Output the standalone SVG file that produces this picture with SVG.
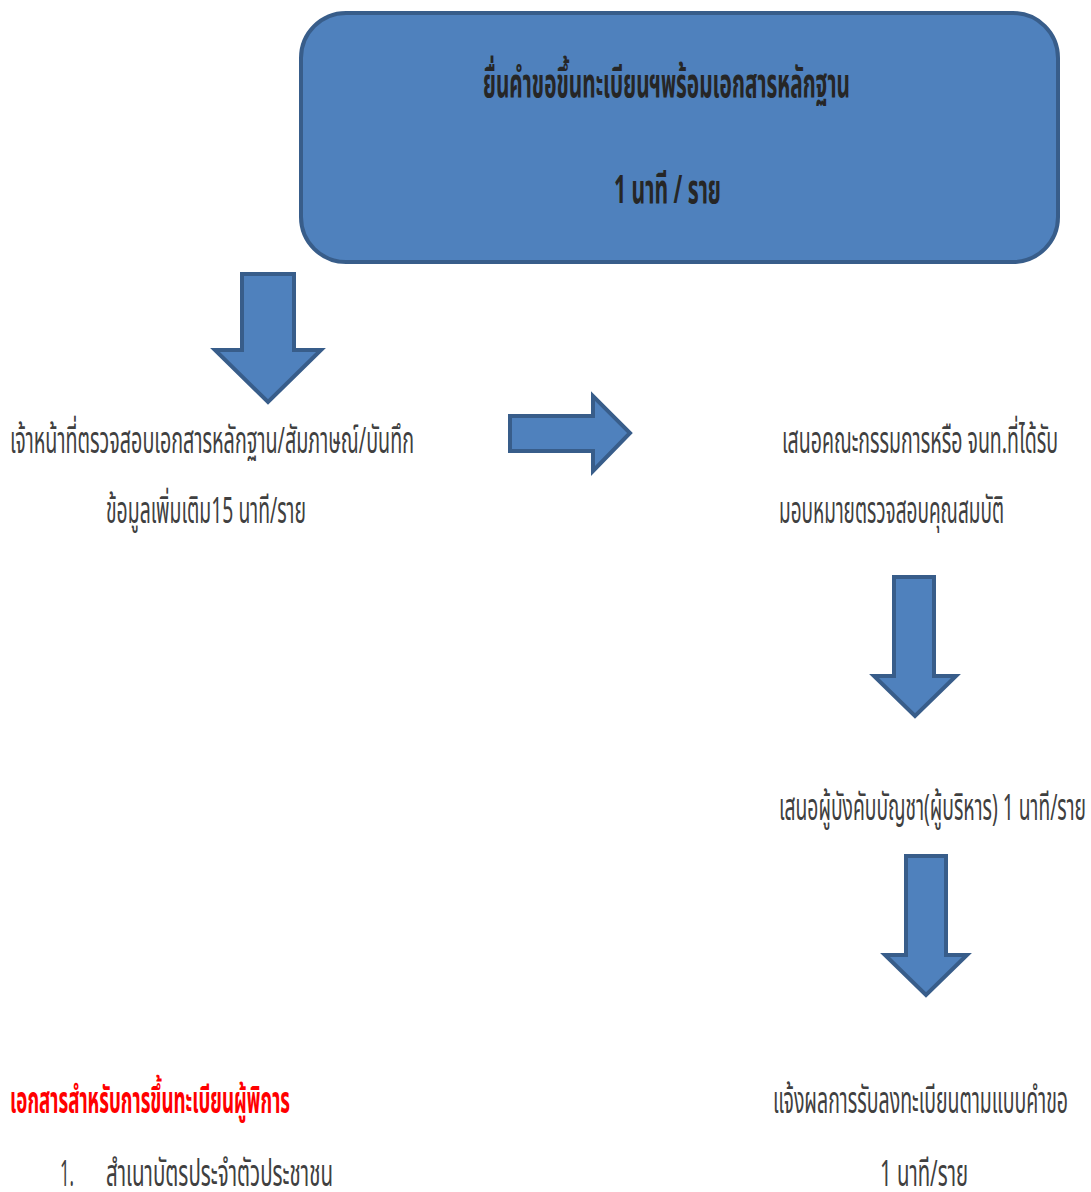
<svg xmlns="http://www.w3.org/2000/svg" width="1091" height="1192" viewBox="0 0 1091 1192">
<style>
.shape{fill:#4F81BD;stroke:#385D8A;stroke-width:4;stroke-linejoin:miter}
.t{font-family:"Noto Sans Thai","Noto Sans","DejaVu Sans",sans-serif;font-size:37px;fill:#404040}
.b{font-family:"Noto Sans Thai","Noto Sans","DejaVu Sans",sans-serif;font-size:40px;font-weight:bold;fill:#262626}
.r{font-family:"Noto Sans Thai","Noto Sans","DejaVu Sans",sans-serif;font-size:37px;font-weight:bold;fill:#FF0000}
</style>
<rect width="1091" height="1192" fill="#FFFFFF"/>
<g id="node-submit">
<rect class="shape" x="301" y="13" width="757" height="249" rx="45" ry="45"/>
<text class="b" x="483" y="97" textLength="367" lengthAdjust="spacingAndGlyphs">ยื่นคำขอขึ้นทะเบียนฯพร้อมเอกสารหลักฐาน</text>
<text class="b" x="614" y="203" textLength="107" lengthAdjust="spacingAndGlyphs">1 นาที / ราย</text>
</g>
<g id="node-check">
<text class="t" x="10" y="453" textLength="404" lengthAdjust="spacingAndGlyphs">เจ้าหน้าที่ตรวจสอบเอกสารหลักฐาน/สัมภาษณ์/บันทึก</text>
<text class="t" x="106" y="523" textLength="200" lengthAdjust="spacingAndGlyphs">ข้อมูลเพิ่มเติม15 นาที/ราย</text>
</g>
<g id="node-committee">
<text class="t" x="782" y="453" textLength="276" lengthAdjust="spacingAndGlyphs">เสนอคณะกรรมการหรือ จนท.ที่ได้รับ</text>
<text class="t" x="779" y="523" textLength="225" lengthAdjust="spacingAndGlyphs">มอบหมายตรวจสอบคุณสมบัติ</text>
</g>
<g id="node-supervisor">
<text class="t" x="779" y="820" textLength="307" lengthAdjust="spacingAndGlyphs">เสนอผู้บังคับบัญชา(ผู้บริหาร) 1 นาที/ราย</text>
</g>
<g id="node-notify">
<text class="t" x="773" y="1113" textLength="295" lengthAdjust="spacingAndGlyphs">แจ้งผลการรับลงทะเบียนตามแบบคำขอ</text>
<text class="t" x="880" y="1186" textLength="88" lengthAdjust="spacingAndGlyphs">1 นาที/ราย</text>
</g>
<g id="node-documents">
<text class="r" x="10" y="1113" textLength="280" lengthAdjust="spacingAndGlyphs">เอกสารสำหรับการขึ้นทะเบียนผู้พิการ</text>
<text class="t" x="60" y="1186" textLength="14" lengthAdjust="spacingAndGlyphs">1.</text>
<text class="t" x="106" y="1186" textLength="227" lengthAdjust="spacingAndGlyphs">สำเนาบัตรประจำตัวประชาชน</text>
</g>
<g id="connectors">
<polygon class="shape" points="242,274 294,274 294,350 321,350 268,402 215,350 242,350"/>
<polygon class="shape" points="510,416 593,416 593,396 630,433 593,471 593,451 510,451"/>
<polygon class="shape" points="894,577 934,577 934,676 956,676 915,716 874,676 894,676"/>
<polygon class="shape" points="906,856 946,856 946,955 967,955 926,995 885,955 906,955"/>
</g>
</svg>
